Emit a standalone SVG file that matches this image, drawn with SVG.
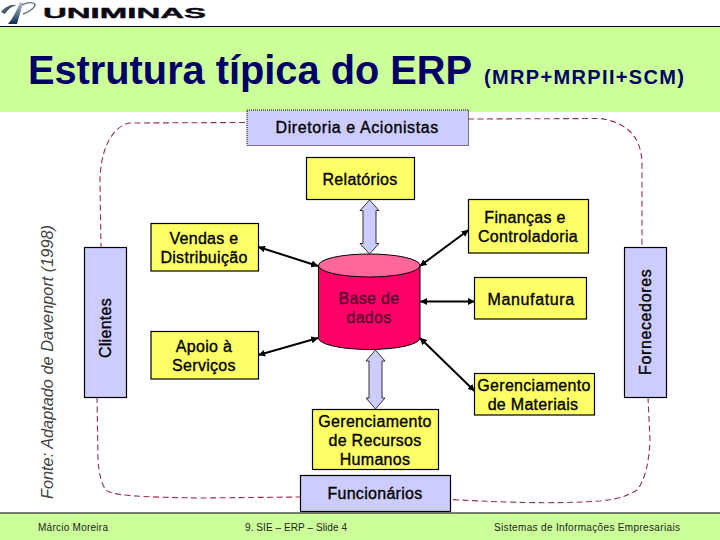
<svg xmlns="http://www.w3.org/2000/svg" width="720" height="540" viewBox="0 0 720 540">
<style>
text{font-family:"Liberation Sans",Arial,sans-serif;fill:#000;text-anchor:middle}
.b{fill:#FFFF66;stroke:#000;stroke-width:1.2}
.l{fill:#CCCCFF;stroke:#000;stroke-width:1.2}
.t{font-size:16px;letter-spacing:.3px;stroke:#000;stroke-width:.35px}
.f{font-size:10px;fill:#222}
.d{fill:none;stroke:#993344;stroke-width:1.1;stroke-dasharray:6 3.5}
.a{fill:none;stroke:#000;stroke-width:2;marker-start:url(#h);marker-end:url(#h)}
.w{fill:#CCCCFF;stroke:#333;stroke-width:1}
</style>
<defs>
<marker id="h" viewBox="0 0 10 10" refX="9.5" refY="5" markerWidth="7" markerHeight="7" orient="auto-start-reverse" markerUnits="userSpaceOnUse"><path d="M0 0L10 5L0 10Z" fill="#000"/></marker>
<linearGradient id="g" x1="0" y1="0" x2="0" y2="1"><stop offset="0" stop-color="#b8c6d2"/><stop offset="1" stop-color="#0c3050"/></linearGradient>
</defs>
<rect width="720" height="540" fill="#fff"/>
<g id="header">
<path d="M1 12C5 7 11 4 16 5C11 7 7 10 5 14Z" fill="#4a5a68"/>
<path d="M20 2L23 3L17 24L8 24C13 18 17 10 20 2Z" fill="url(#g)"/>
<path d="M22 5C27 2 33 2 35 4C35 8 29 12 23 14" fill="none" stroke="#5a7080" stroke-width="1.4"/>
<text x="43" y="18" textLength="163" lengthAdjust="spacingAndGlyphs" style="font-size:15.5px;font-weight:bold;text-anchor:start;fill:#0a0a14;stroke:#0a0a14;stroke-width:.4px">UNIMINAS</text>
<rect y="27" width="720" height="85" fill="#CCFF99"/>
<line x1="0" y1="26.5" x2="720" y2="26.5" stroke="#000" stroke-width="1"/>
<text x="28" y="84" textLength="444" lengthAdjust="spacingAndGlyphs" style="font-size:40px;font-weight:bold;fill:#000066;text-anchor:start">Estrutura típica do ERP</text>
<text x="484" y="84" textLength="200" style="font-size:20px;font-weight:bold;fill:#000066;text-anchor:start">(MRP+MRPII+SCM)</text>
</g>
<g id="footer">
<rect y="513" width="720" height="27" fill="#CCFF99"/>
<line x1="0" y1="513" x2="720" y2="513" stroke="#000" stroke-width="1"/>
<text class="f" x="73" y="531" textLength="70">Márcio Moreira</text>
<text class="f" x="296" y="531" textLength="102">9. SIE – ERP – Slide 4</text>
<text class="f" x="587" y="531" textLength="186">Sistemas de Informações Empresariais</text>
</g>
<g id="connectors">
<path class="d" d="M245 122.500L130 123C112 126 100 150 100 182L101 247"/>
<path class="d" d="M468 119L600 118.500C625 122 642 135 642 165L642 247"/>
<path class="d" d="M648 397L650 440C649 463 645 480 637 490C628 496 618 499 600 501C570 503 530 504 451 499.500"/>
<path class="d" d="M97 397L98 460C99 475 102 485 106 490C112 495 130 497 200 498L300 497"/>
<path class="a" d="M258.500 247L318 266"/>
<path class="a" d="M258.500 355L318 338"/>
<path class="a" d="M468.500 230L420 266"/>
<path class="a" d="M474.500 301.500L420.500 301.500"/>
<path class="a" d="M474.500 391L420 338"/>
<path class="w" d="M369.500 200L379 210.500L376 210.500L376 243.500L379 243.500L369.500 254L360 243.500L363 243.500L363 210.500L360 210.500Z"/>
<path class="w" d="M375.500 350L385 361L382 361L382 398L385 398L375.500 409L366 398L369 398L369 361L366 361Z"/>
</g>
<g id="diretoria"><rect x="247" y="110" width="221.500" height="35.500" fill="#CCCCFF" stroke="#000" stroke-width="1" stroke-dasharray="1 1"/><text class="t" x="357" y="133" textLength="163">Diretoria e Acionistas</text></g>
<g id="relatorios"><rect class="b" x="306.500" y="157.500" width="108" height="42"/><text class="t" x="360" y="185">Relatórios</text></g>
<g id="vendas"><rect class="b" x="151" y="223.500" width="107.500" height="47.500"/><text class="t" x="204" y="244">Vendas e</text><text class="t" x="204" y="263">Distribuição</text></g>
<g id="apoio"><rect class="b" x="151" y="331.500" width="107.500" height="47.500"/><text class="t" x="204" y="352">Apoio à</text><text class="t" x="204" y="371">Serviços</text></g>
<g id="base"><path d="M318.500 265.500L318.500 338A50.750 11.500 0 0 0 420 338L420 265.500Z" fill="#FF0066" stroke="#000" stroke-width="1"/><ellipse cx="369.250" cy="265.500" rx="50.750" ry="11.500" fill="#FF6699" stroke="#000" stroke-width="1"/><text class="t" x="369" y="304" style="fill:#550033;stroke:#550033">Base de</text><text class="t" x="369" y="323" style="fill:#550033;stroke:#550033">dados</text></g>
<g id="financas"><rect class="b" x="468.500" y="199.500" width="120" height="53.500"/><text class="t" x="525" y="223">Finanças e</text><text class="t" x="528" y="242">Controladoria</text></g>
<g id="manufatura"><rect class="b" x="474.500" y="277.500" width="112" height="41.500"/><text class="t" x="531" y="305" textLength="87">Manufatura</text></g>
<g id="materiais"><rect class="b" x="474.500" y="373.500" width="120" height="41.500"/><text class="t" x="534" y="391">Gerenciamento</text><text class="t" x="533" y="410">de Materiais</text></g>
<g id="rh"><rect class="b" x="312.500" y="409.500" width="126" height="60"/><text class="t" x="375" y="427">Gerenciamento</text><text class="t" x="375" y="446">de Recursos</text><text class="t" x="375" y="465">Humanos</text></g>
<g id="funcionarios"><rect class="l" x="300.500" y="475.500" width="150" height="36"/><text class="t" x="375" y="499">Funcionários</text></g>
<g id="clientes"><rect class="l" x="84.500" y="247.500" width="42" height="150"/><text class="t" transform="translate(110.500 328) rotate(-90)">Clientes</text></g>
<g id="fornecedores"><rect class="l" x="624.500" y="247.500" width="42" height="150"/><text class="t" transform="translate(650.500 322) rotate(-90)" textLength="106">Fornecedores</text></g>
<g id="fonte"><text transform="translate(53 362) rotate(-90)" textLength="274" lengthAdjust="spacingAndGlyphs" style="font-size:17px;font-style:italic;fill:#444">Fonte: Adaptado de Davenport (1998)</text></g>
</svg>
